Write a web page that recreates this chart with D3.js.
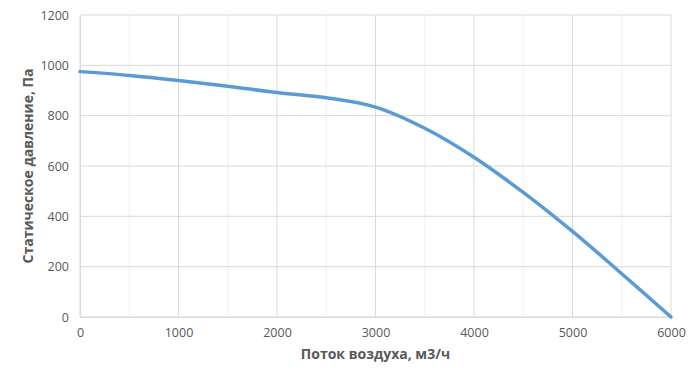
<!DOCTYPE html>
<html><head><meta charset="utf-8">
<script src="https://cdn.jsdelivr.net/npm/d3@7"></script>
<style>body{margin:0;background:#fff;} svg{display:block;}</style>
</head><body>
<svg id="c" width="700" height="383"></svg>
<script>
const flow = [0, 500, 1000, 1500, 2000, 2500, 3000, 3500, 4000, 4500, 5000, 5500, 6000];
const pressure = [975, 960, 940, 917, 892, 871, 834, 750, 635, 495, 340, 172, 0];
const xTicks = [0, 1000, 2000, 3000, 4000, 5000, 6000];
const xMinor = [500, 1500, 2500, 3500, 4500, 5500];
const yTicks = [0, 200, 400, 600, 800, 1000, 1200];
const xTitle = "Поток воздуха, м3/ч";
const yTitle = "Статическое давление, Па";

const svg = d3.select("#c");
const font = "'Open Sans', 'Liberation Sans', sans-serif";
const x = d3.scaleLinear().domain([0, 6000]).range([80, 671]);
const y = d3.scaleLinear().domain([0, 1200]).range([317, 15]);

svg.append("g").selectAll("line").data(xMinor).join("line")
  .attr("x1", d => x(d)).attr("x2", d => x(d)).attr("y1", y(1200)).attr("y2", y(0))
  .attr("stroke", "#efefef").attr("stroke-width", 1);
svg.append("g").selectAll("line").data(xTicks).join("line")
  .attr("x1", d => x(d)).attr("x2", d => x(d)).attr("y1", y(1200)).attr("y2", y(0))
  .attr("stroke", "#d9d9d9").attr("stroke-width", 1);
svg.append("g").selectAll("line").data(yTicks).join("line")
  .attr("x1", x(0)).attr("x2", x(6000)).attr("y1", d => y(d)).attr("y2", d => y(d))
  .attr("stroke", "#d9d9d9").attr("stroke-width", 1);

const xAxis = svg.append("g").attr("transform", `translate(0,${y(0)})`)
  .call(d3.axisBottom(x).tickValues(xTicks).tickSize(0).tickPadding(11).tickFormat(d3.format("d")));
xAxis.select(".domain").attr("stroke", "#d9d9d9");
const yAxis = svg.append("g").attr("transform", `translate(${x(0)},0)`)
  .call(d3.axisLeft(y).tickValues(yTicks).tickSize(0).tickPadding(11).tickFormat(d3.format("d")));
yAxis.select(".domain").attr("stroke", "#d9d9d9");
svg.selectAll(".tick text").attr("fill", "#595959").style("font-family", font).style("font-size", "12.5px");

const line = d3.line().x((d, i) => x(flow[i])).y(d => y(d)).curve(d3.curveCatmullRom.alpha(0.5));
svg.append("path").datum(pressure).attr("d", line)
  .attr("fill", "none").attr("stroke", "#5B9BD5").attr("stroke-width", 3.5).attr("stroke-linecap", "round");

svg.append("text").attr("x", (x(0) + x(6000)) / 2).attr("y", 359).attr("text-anchor", "middle")
  .attr("fill", "#595959").style("font-family", font).style("font-size", "14px").style("font-weight", "bold").text(xTitle);
svg.append("text").attr("transform", `translate(33,${(y(0) + y(1200)) / 2}) rotate(-90)`).attr("text-anchor", "middle")
  .attr("fill", "#595959").style("font-family", font).style("font-size", "14px").style("font-weight", "bold").text(yTitle);
</script>
</body></html>
